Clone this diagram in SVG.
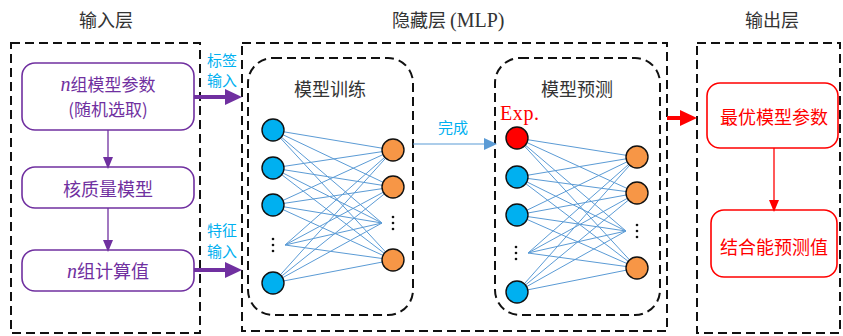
<svg xmlns="http://www.w3.org/2000/svg" width="843" height="336" viewBox="0 0 843 336">
<defs>
<style>
.dash{fill:none;stroke:#111;stroke-width:2;stroke-dasharray:9 5}
.cn{font-family:"Noto Sans CJK SC","Noto Sans",sans-serif}
.title{font-size:18px;fill:#333}
.pbox{fill:#fff;stroke:#7030a0;stroke-width:1.6}
.ptxt{font-size:18px;fill:#7030a0}
.rbox{fill:#fff;stroke:#ff0000;stroke-width:1.6}
.rtxt{font-size:18px;fill:#ff0000}
.lbl{font-size:15px;fill:#00b0f0}
.serif{font-family:"Liberation Serif","DejaVu Serif",serif}
.net line{stroke:#5b9bd5;stroke-width:1}
.in{fill:#00b0f0;stroke:#111;stroke-width:1.4}
.out{fill:#f79646;stroke:#111;stroke-width:1.4}
.exp{fill:#ff0000;stroke:#111;stroke-width:1.4}
.dot{fill:#111}
</style>
<marker id="aP" markerUnits="userSpaceOnUse" markerWidth="12" markerHeight="10" refX="10" refY="5" orient="auto"><path d="M0,0 L12,5 L0,10 Z" fill="#7030a0"/></marker>
<marker id="aPT" markerUnits="userSpaceOnUse" markerWidth="17" markerHeight="16" refX="6" refY="8" orient="auto"><path d="M0,0 L17,8 L0,16 Z" fill="#7030a0"/></marker>
<marker id="aR" markerUnits="userSpaceOnUse" markerWidth="12" markerHeight="10" refX="10" refY="5" orient="auto"><path d="M0,0 L12,5 L0,10 Z" fill="#ff0000"/></marker>
<marker id="aRT" markerUnits="userSpaceOnUse" markerWidth="17" markerHeight="16" refX="6" refY="8" orient="auto"><path d="M0,0 L17,8 L0,16 Z" fill="#ff0000"/></marker>
<marker id="aB" markerUnits="userSpaceOnUse" markerWidth="13" markerHeight="12" refX="11" refY="6" orient="auto"><path d="M0,0 L13,6 L0,12 Z" fill="#5b9bd5"/></marker>
</defs>
<rect width="843" height="336" fill="#fff"/>

<g id="titles">
<text class="cn title" x="106" y="27" text-anchor="middle">输入层</text>
<text class="title" x="392" y="27"><tspan class="cn">隐藏层 </tspan><tspan class="serif" font-size="20">(MLP)</tspan></text>
<text class="cn title" x="772" y="27" text-anchor="middle">输出层</text>
</g>

<g id="input-layer">
<rect class="dash" x="11" y="43" width="189" height="290"/>
</g>
<g id="hidden-layer">
<rect class="dash" x="242" y="43" width="425" height="288"/>
</g>
<g id="output-layer">
<rect class="dash" x="697" y="43" width="143" height="290"/>
</g>

<g id="train-box">
<rect class="dash" x="248" y="58" width="165" height="257" rx="25"/>
<text class="cn title" x="330" y="96" text-anchor="middle">模型训练</text>
</g>
<g id="predict-box">
<rect class="dash" x="495" y="58" width="165" height="257" rx="25"/>
<text class="cn title" x="577" y="96" text-anchor="middle">模型预测</text>
<text class="serif" x="500" y="120" font-size="20" fill="#ff0000" letter-spacing="0.6">Exp.</text>
</g>

<g id="node-params">
<rect class="pbox" x="22" y="63" width="172" height="67" rx="13"/>
<text class="ptxt" x="108" y="91" text-anchor="middle" font-size="17"><tspan class="serif" font-style="italic" font-size="20">n</tspan><tspan class="cn" font-size="17">组模型参数</tspan></text>
<text class="cn ptxt" x="108" y="116" text-anchor="middle" font-size="17" style="font-size:17px">(随机选取)</text>
</g>
<g id="node-mass">
<rect class="pbox" x="22" y="167" width="172" height="41" rx="13"/>
<text class="cn ptxt" x="108" y="196" text-anchor="middle">核质量模型</text>
</g>
<g id="node-calc">
<rect class="pbox" x="22" y="250" width="172" height="41" rx="13"/>
<text class="ptxt" x="108" y="278" text-anchor="middle"><tspan class="serif" font-style="italic" font-size="20">n</tspan><tspan class="cn">组计算值</tspan></text>
</g>
<g id="node-best">
<rect class="rbox" x="707" y="83" width="131" height="65" rx="13"/>
<text class="cn rtxt" x="774" y="124" text-anchor="middle">最优模型参数</text>
</g>
<g id="node-be">
<rect class="rbox" x="711" y="210" width="126" height="67" rx="13"/>
<text class="cn rtxt" x="774" y="254" text-anchor="middle">结合能预测值</text>
</g>

<g id="connectors">
<line x1="108" y1="130" x2="108" y2="167" stroke="#7030a0" stroke-width="1.3" marker-end="url(#aP)"/>
<line x1="108" y1="208" x2="108" y2="250" stroke="#7030a0" stroke-width="1.3" marker-end="url(#aP)"/>
<line x1="194" y1="97" x2="231" y2="97" stroke="#7030a0" stroke-width="4" marker-end="url(#aPT)"/>
<line x1="194" y1="270" x2="231" y2="270" stroke="#7030a0" stroke-width="4" marker-end="url(#aPT)"/>
<line x1="413" y1="144" x2="495" y2="144" stroke="#5b9bd5" stroke-width="1.2" marker-end="url(#aB)"/>
<line x1="667" y1="118" x2="686" y2="118" stroke="#ff0000" stroke-width="4" marker-end="url(#aRT)"/>
<line x1="774" y1="148" x2="774" y2="210" stroke="#ff0000" stroke-width="1.3" marker-end="url(#aR)"/>
<text class="cn lbl" x="222" y="66" text-anchor="middle">标签</text>
<text class="cn lbl" x="222" y="86" text-anchor="middle">输入</text>
<text class="cn lbl" x="222" y="236" text-anchor="middle">特征</text>
<text class="cn lbl" x="222" y="257" text-anchor="middle">输入</text>
<text class="cn lbl" x="453" y="133" text-anchor="middle">完成</text>
</g>

<g id="net-train" class="net">
<line x1="273" y1="130" x2="393" y2="150"/><line x1="273" y1="130" x2="393" y2="187"/><line x1="273" y1="130" x2="382" y2="223"/><line x1="273" y1="130" x2="393" y2="260"/>
<line x1="273" y1="168" x2="393" y2="150"/><line x1="273" y1="168" x2="393" y2="187"/><line x1="273" y1="168" x2="382" y2="223"/><line x1="273" y1="168" x2="393" y2="260"/>
<line x1="273" y1="205" x2="393" y2="150"/><line x1="273" y1="205" x2="393" y2="187"/><line x1="273" y1="205" x2="382" y2="223"/><line x1="273" y1="205" x2="393" y2="260"/>
<line x1="285" y1="245" x2="393" y2="150"/><line x1="285" y1="245" x2="393" y2="187"/><line x1="285" y1="245" x2="382" y2="223"/><line x1="285" y1="245" x2="393" y2="260"/>
<line x1="273" y1="283" x2="393" y2="150"/><line x1="273" y1="283" x2="393" y2="187"/><line x1="273" y1="283" x2="382" y2="223"/><line x1="273" y1="283" x2="393" y2="260"/>
<circle class="in" cx="273" cy="130" r="11"/><circle class="in" cx="273" cy="168" r="11"/><circle class="in" cx="273" cy="205" r="11"/><circle class="in" cx="273" cy="283" r="11"/>
<circle class="dot" cx="273" cy="239" r="1.3"/><circle class="dot" cx="273" cy="245" r="1.3"/><circle class="dot" cx="273" cy="251" r="1.3"/>
<circle class="out" cx="393" cy="150" r="11"/><circle class="out" cx="393" cy="187" r="11"/><circle class="out" cx="393" cy="260" r="11"/>
<circle class="dot" cx="393" cy="217" r="1.3"/><circle class="dot" cx="393" cy="223" r="1.3"/><circle class="dot" cx="393" cy="229" r="1.3"/>
</g>

<g id="net-predict" class="net">
<line x1="517" y1="138" x2="637" y2="157"/><line x1="517" y1="138" x2="637" y2="193"/><line x1="517" y1="138" x2="626" y2="231"/><line x1="517" y1="138" x2="637" y2="268"/>
<line x1="517" y1="177" x2="637" y2="157"/><line x1="517" y1="177" x2="637" y2="193"/><line x1="517" y1="177" x2="626" y2="231"/><line x1="517" y1="177" x2="637" y2="268"/>
<line x1="517" y1="215" x2="637" y2="157"/><line x1="517" y1="215" x2="637" y2="193"/><line x1="517" y1="215" x2="626" y2="231"/><line x1="517" y1="215" x2="637" y2="268"/>
<line x1="528" y1="253" x2="637" y2="157"/><line x1="528" y1="253" x2="637" y2="193"/><line x1="528" y1="253" x2="626" y2="231"/><line x1="528" y1="253" x2="637" y2="268"/>
<line x1="517" y1="292" x2="637" y2="157"/><line x1="517" y1="292" x2="637" y2="193"/><line x1="517" y1="292" x2="626" y2="231"/><line x1="517" y1="292" x2="637" y2="268"/>
<circle class="exp" cx="517" cy="138" r="11"/><circle class="in" cx="517" cy="177" r="11"/><circle class="in" cx="517" cy="215" r="11"/><circle class="in" cx="517" cy="292" r="11"/>
<circle class="dot" cx="516" cy="247" r="1.3"/><circle class="dot" cx="516" cy="253" r="1.3"/><circle class="dot" cx="516" cy="259" r="1.3"/>
<circle class="out" cx="637" cy="157" r="11"/><circle class="out" cx="637" cy="193" r="11"/><circle class="out" cx="637" cy="268" r="11"/>
<circle class="dot" cx="637" cy="225" r="1.3"/><circle class="dot" cx="637" cy="231" r="1.3"/><circle class="dot" cx="637" cy="237" r="1.3"/>
</g>
</svg>
